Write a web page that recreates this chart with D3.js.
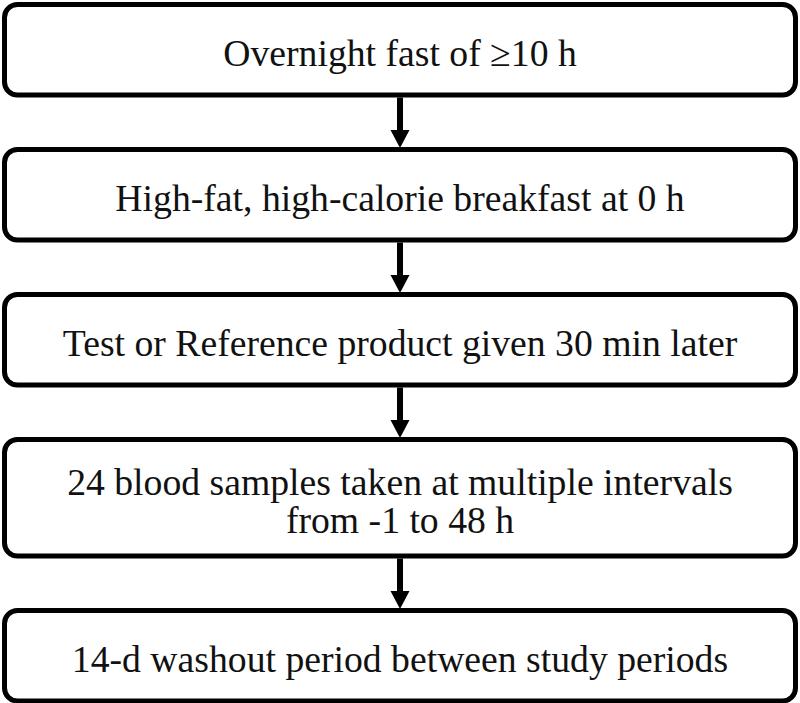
<!DOCTYPE html>
<html>
<head>
<meta charset="utf-8">
<script src="https://cdn.jsdelivr.net/npm/d3@7/dist/d3.min.js"></script>
<style>
html, body { margin: 0; padding: 0; background: #fff; }
svg { display: block; }
</style>
</head>
<body>
<svg id="chart" width="800" height="703"></svg>
<script>
// Flowchart steps (each entry is a list of text lines)
const steps = [
  ["Overnight fast of \u226510 h"],
  ["High-fat, high-calorie breakfast at 0 h"],
  ["Test or Reference product given 30 min later"],
  ["24 blood samples taken at multiple intervals", "from -1 to 48 h"],
  ["14-d washout period between study periods"]
];

const svg = d3.select("#chart");
const boxLeft = 4.5, boxRight = 795.5;
const baseH = 90.5, extraPerLine = 26, gap = 54.5;
const strokeW = 5, rx = 13;
const fontSize = 37.7, lineGap = 38;

// layout computed from the steps
let y = 4.5;
const layout = steps.map(lines => {
  const h = baseH + (lines.length - 1) * extraPerLine;
  const o = { lines, top: y, h };
  y += h + gap;
  return o;
});

const x = d3.scaleLinear().domain([0, 1]).range([boxLeft, boxRight]);
const cx = x(0.5);

const g = svg.append("g");

const node = g.selectAll("g.step").data(layout).join("g").attr("class", "step");
node.append("rect")
  .attr("x", x(0)).attr("y", d => d.top)
  .attr("width", x(1) - x(0)).attr("height", d => d.h)
  .attr("rx", rx).attr("ry", rx)
  .attr("fill", "#fff").attr("stroke", "#000").attr("stroke-width", strokeW);

node.each(function(d) {
  const n = d.lines.length;
  const mid = d.top + d.h / 2;
  const first = mid + 16 - (n - 1) * lineGap / 2;
  d3.select(this).selectAll("text").data(d.lines).join("text")
    .attr("x", cx)
    .attr("y", (t, i) => first + i * lineGap)
    .attr("text-anchor", "middle")
    .style("font-family", '"Liberation Serif", "Times New Roman", serif')
    .style("font-size", fontSize + "px")
    .attr("fill", "#111")
    .text(t => t);
});

// arrows between boxes
const arrows = d3.pairs(layout);
const ag = g.append("g");
arrows.forEach(([a, b]) => {
  const y0 = a.top + a.h + strokeW / 2;
  const y1 = b.top - strokeW / 2 + 1;
  const headH = 18, headW = 19;
  ag.append("line")
    .attr("x1", cx).attr("x2", cx)
    .attr("y1", y0).attr("y2", y1 - headH + 1)
    .attr("stroke", "#000").attr("stroke-width", 6);
  ag.append("path")
    .attr("d", d3.line()([[cx - headW / 2, y1 - headH], [cx + headW / 2, y1 - headH], [cx, y1]]) + "Z")
    .attr("fill", "#000");
});
</script>
</body>
</html>
